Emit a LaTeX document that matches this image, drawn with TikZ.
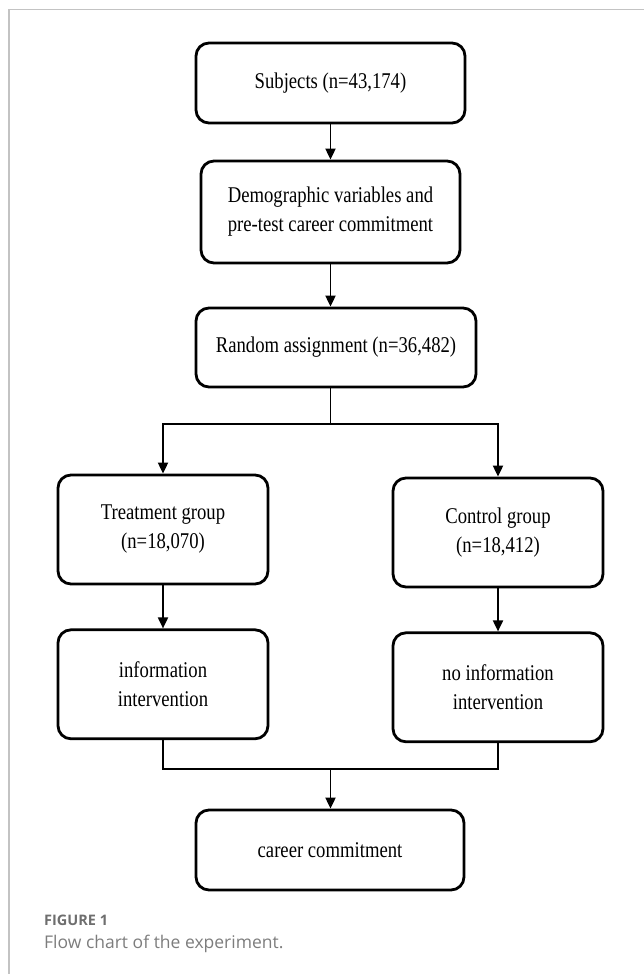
\documentclass[tikz,border=0pt]{standalone}
\usepackage{fontspec}
\setmainfont{Liberation Serif}[FakeStretch=0.83]
\newfontfamily\capfont{Open Sans}
\usepackage{tikz}
\usetikzlibrary{
    arrows.meta,
    positioning
}
\definecolor{ink}{RGB}{0,0,0}
\definecolor{framegray}{RGB}{195,195,195}
\definecolor{capgray}{RGB}{125,125,125}
\definecolor{figgray}{RGB}{110,110,110}
\tikzset{
    line join=round,
    stepbox/.style={
        rectangle,
        draw=ink,
        line width=2.8pt,
        rounded corners=13pt,
        fill=white,
        align=center,
        inner sep=0pt,
        font=\fontsize{22.5}{29}\selectfont,
        text=ink
    },
    wide box/.style={stepbox, minimum width=269pt, minimum height=80pt},
    side box/.style={stepbox, minimum width=210pt, minimum height=109pt},
    flowarrow/.style={
        -{Triangle[length=11pt,width=10pt]},
        draw=ink,
        line width=1.9pt
    },
    joinline/.style={
        draw=ink,
        line width=2.6pt
    },
    figlabel/.style={
        font=\capfont\bfseries\fontsize{14.5}{17}\selectfont,
        text=figgray,
        anchor=west,
        inner sep=0pt
    },
    figcaption/.style={
        font=\capfont\fontsize{17.5}{21}\selectfont,
        text=capgray,
        anchor=west,
        inner sep=0pt
    }
}

\begin{document}
\begin{tikzpicture}[x=1pt, y=-1pt]
    \useasboundingbox (0,0) rectangle (644,974);

    % Page frame
    \draw[framegray, line width=1.3pt] (9,974) |- (644,9.5);

% Main column
\node[wide box] (subj) at (330.5,83) {Subjects (n=43,174)};
\node[stepbox, minimum width=259pt, minimum height=102pt] (demo) at (330.5,212)
    {Demographic variables and\\pre-test career commitment};
\node[stepbox, minimum width=280pt, minimum height=79pt] (rand) at (336,347.5)
    {Random assignment (n=36,482)};

% Two groups
\node[side box] (treat) at (163,529.5) {Treatment group\\(n=18,070)};
\node[side box] (ctrl) at (498,532.5) {Control group\\(n=18,412)};
\node[side box, below=43pt of treat] (info) {information\\intervention};
\node[side box, below=43pt of ctrl] (noinfo) {no information\\intervention};

% Outcome
\node[wide box, minimum width=268pt] (career) at (330,850) {career commitment};

% Connectors
\draw[flowarrow] (subj) -- (demo);
\draw[flowarrow] (demo.south) -- (demo.south |- rand.north);

\coordinate (split) at (330.5,424);
\draw[joinline, line width=1.9pt] (demo.south |- rand.south) -- (split);
\draw[flowarrow] (split) -| (treat.north);
\draw[flowarrow] (split) -| (ctrl.north);

\draw[flowarrow] (treat) -- (info);
\draw[flowarrow] (ctrl) -- (noinfo);

\coordinate (merge) at (330.5,769);
\draw[joinline] (info.south) |- (merge) -| (noinfo.south);
\draw[flowarrow] (merge) -- (merge |- career.north);

% Caption
\node[figlabel] (fig) at (44,920) {FIGURE 1};
\node[figcaption] (cap) at (44,944) {Flow chart of the experiment.};

\end{tikzpicture}
\end{document}
